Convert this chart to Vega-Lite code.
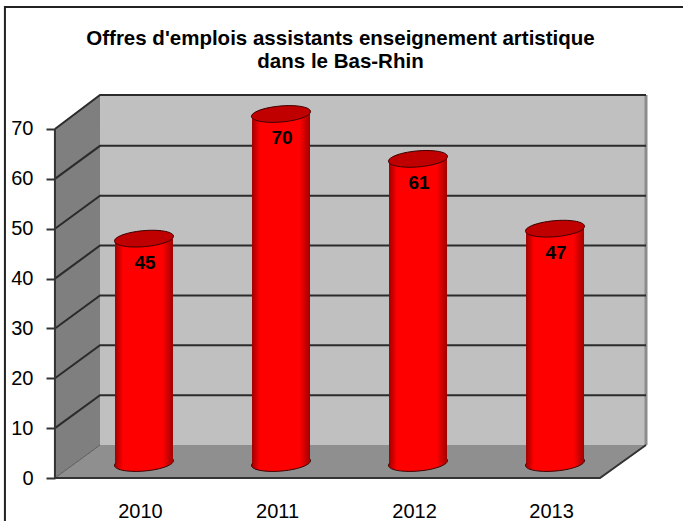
{
"$schema":"https://vega.github.io/schema/vega-lite/v6.json",
"width":683,"height":521,"autosize":"none","padding":0,"background":"#ffffff",
"title":{"text":["Offres d'emplois assistants enseignement artistique","dans le  Bas-Rhin"],"anchor":"middle","frame":"group","orient":"top","offset":-72,"dx":-1,"font":"Liberation Sans","fontSize":20.5,"fontWeight":"bold","color":"#000000","lineHeight":23},
"config":{"view":{"stroke":null}},
"datasets":{
"bars":[{"x":2010,"y":45},{"x":2011,"y":70},{"x":2012,"y":61},{"x":2013,"y":47}],
"side":[{"x":2009.35,"y":0,"y2":70},{"x":2009.679,"y":6.62,"y2":76.82}],
"floor":[{"x":2009.35,"y":0,"y2":0},{"x":2009.679,"y":0,"y2":6.62},{"x":2013.328,"y":0,"y2":6.62},{"x":2013.664,"y":6.62,"y2":6.62}],
"back":[{"x":2009.679,"y":6.62,"y2":76.82},{"x":2013.664,"y":6.62,"y2":76.82}],
"grid":[
{"x":2009.35,"y":10,"k":10},{"x":2009.679,"y":16.62,"k":10},{"x":2013.664,"y":16.62,"k":10},
{"x":2009.35,"y":20,"k":20},{"x":2009.679,"y":26.62,"k":20},{"x":2013.664,"y":26.62,"k":20},
{"x":2009.35,"y":30,"k":30},{"x":2009.679,"y":36.62,"k":30},{"x":2013.664,"y":36.62,"k":30},
{"x":2009.35,"y":40,"k":40},{"x":2009.679,"y":46.62,"k":40},{"x":2013.664,"y":46.62,"k":40},
{"x":2009.35,"y":50,"k":50},{"x":2009.679,"y":56.62,"k":50},{"x":2013.664,"y":56.62,"k":50},
{"x":2009.35,"y":60,"k":60},{"x":2009.679,"y":66.62,"k":60},{"x":2013.664,"y":66.62,"k":60},
{"x":2009.35,"y":70,"k":70},{"x":2009.679,"y":76.82,"k":70},{"x":2013.664,"y":76.82,"k":70}],
"frontEdge":[{"x":2009.35,"y":70},{"x":2009.35,"y":0},{"x":2013.328,"y":0},{"x":2013.664,"y":6.62}],
"sideEdge":[{"x":2009.35,"y":0},{"x":2009.679,"y":6.62}],
"rightEdge":[{"x":2013.664,"y":6.62},{"x":2013.664,"y":76.82}],
"border":[{"x":2008.985,"y":-8.62},{"x":2008.985,"y":94.46},{"x":2013.934,"y":94.46}]
},
"encoding":{
"x":{"field":"x","type":"quantitative","scale":{"domain":[2008.949,2013.934],"range":[0,683],"nice":false,"zero":false,"padding":0},
"axis":{"title":null,"values":[2010,2011,2012,2013],"format":"d","grid":false,"domain":false,"ticks":false,"offset":-10,"labelPadding":0,"labelOffset":-4,"labelFont":"Liberation Sans","labelFontSize":20,"labelColor":"#000000","labelBaseline":"middle","labelFlush":false,"labelOverlap":false}},
"y":{"field":"y","type":"quantitative","scale":{"domain":[-8.62,95.87],"range":[521,0],"nice":false,"zero":false,"padding":0},
"axis":{"title":null,"values":[0,10,20,30,40,50,60,70],"grid":false,"domain":false,"ticks":true,"tickSize":9,"tickColor":"#333333","tickWidth":2,"offset":-55,"labelPadding":13,"labelFont":"Liberation Sans","labelFontSize":20,"labelColor":"#000000","labelFlush":false,"labelOverlap":false}}
},
"layer":[
{"data":{"name":"border"},"mark":{"type":"line","color":"#222222","strokeWidth":2,"clip":false}},
{"data":{"name":"back"},"mark":{"type":"area","color":"#c0c0c0","opacity":1},"encoding":{"y2":{"field":"y2"}}},
{"data":{"name":"side"},"mark":{"type":"area","color":"#7f7f7f","opacity":1},"encoding":{"y2":{"field":"y2"}}},
{"data":{"name":"floor"},"mark":{"type":"area","color":"#8f8f8f","opacity":1},"encoding":{"y2":{"field":"y2"}}},
{"data":{"name":"rightEdge"},"mark":{"type":"line","color":"#8c8c8c","strokeWidth":3}},
{"data":{"name":"grid"},"mark":{"type":"line","color":"#2b2b2b","strokeWidth":2},"encoding":{"detail":{"field":"k"}}},
{"data":{"name":"sideEdge"},"mark":{"type":"line","color":"#5a5a5a","strokeWidth":1}},
{"data":{"name":"frontEdge"},"mark":{"type":"line","color":"#333333","strokeWidth":2}},
{"data":{"name":"bars"},"mark":{"type":"point","filled":true,"opacity":1,"size":3481,"yOffset":-15,"shape":"M-1,0.07 A1,0.27 -5 1 1 1,-0.07 A1,0.27 -5 1 1 -1,0.07 Z","stroke":"#3a0000","strokeWidth":1,"fill":{"x1":0,"x2":1,"y1":0,"y2":0,"gradient":"linear","stops":[{"offset":0,"color":"#a00000"},{"offset":0.14,"color":"#ff0000"},{"offset":0.82,"color":"#ff0000"},{"offset":1,"color":"#a00000"}]}},"encoding":{"y":{"datum":0}}},
{"data":{"name":"bars"},"mark":{"type":"bar","width":58,"orient":"vertical","yOffset":-15,"y2Offset":-15,"opacity":1,"fill":{"x1":0,"x2":1,"y1":0,"y2":0,"gradient":"linear","stops":[{"offset":0,"color":"#a00000"},{"offset":0.14,"color":"#ff0000"},{"offset":0.82,"color":"#ff0000"},{"offset":1,"color":"#a00000"}]}},"encoding":{"y2":{"datum":0}}},
{"data":{"name":"bars"},"mark":{"type":"point","filled":true,"opacity":1,"size":3481,"yOffset":-15,"shape":"M-1,0.07 A1,0.27 -5 1 1 1,-0.07 A1,0.27 -5 1 1 -1,0.07 Z","fill":"#c00000","stroke":"#3a0000","strokeWidth":1}},
{"data":{"name":"bars"},"mark":{"type":"text","font":"Liberation Sans","fontSize":19,"fontWeight":"bold","color":"#000000","yOffset":9,"dx":1,"baseline":"middle"},"encoding":{"text":{"field":"y","type":"quantitative"}}}
]
}
